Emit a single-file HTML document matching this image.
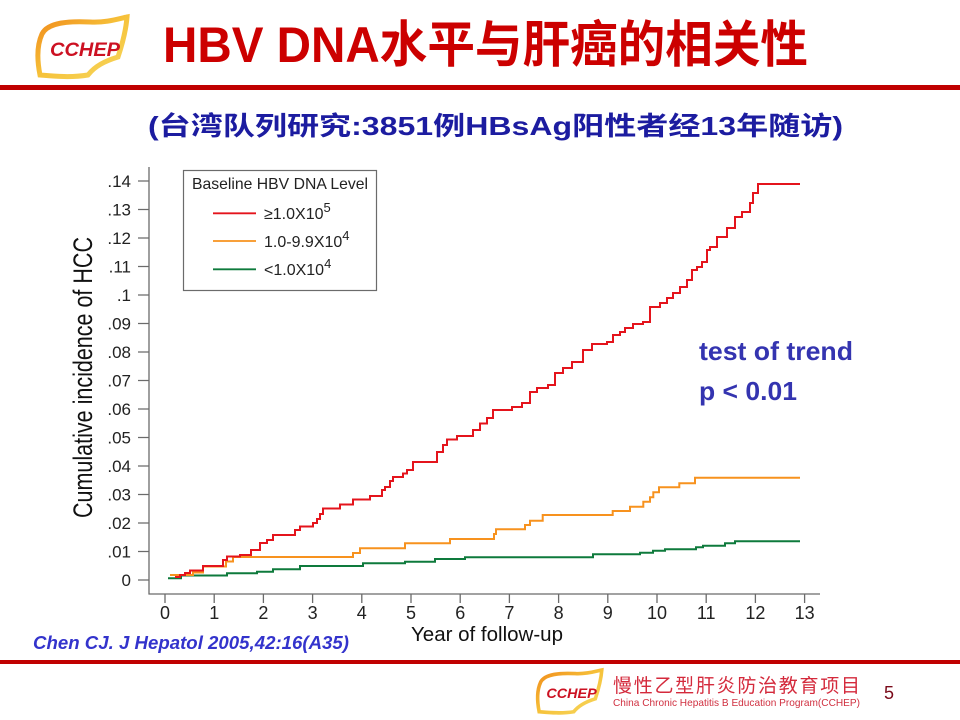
<!DOCTYPE html>
<html><head><meta charset="utf-8"><style>
html,body{margin:0;padding:0;background:#fff;}
svg{display:block;}
text{font-family:"Liberation Sans","Noto Sans CJK SC",sans-serif;}
</style></head><body>
<svg width="960" height="720" viewBox="0 0 960 720" xmlns="http://www.w3.org/2000/svg">
<defs>
<linearGradient id="lg" x1="0" y1="0" x2="1" y2="1">
<stop offset="0" stop-color="#f08a1a"/><stop offset="0.5" stop-color="#f6c23a"/><stop offset="1" stop-color="#f7d860"/>
</linearGradient>
</defs>
<rect width="960" height="720" fill="#fff"/>

<!-- header logo -->
<g id="logo">
<path d="M42,34 C48,22 70,21 90,22 C105,23 118,19 127,17 C126,30 122,45 118,57 C105,61 95,66 88,75 C70,78 52,76 40,75 C37,60 37,45 42,34 Z" fill="#fff" stroke="url(#lg)" stroke-width="5"/>
<text x="50" y="56" font-size="19" font-weight="900" font-style="italic" fill="#cc1122" textLength="70" lengthAdjust="spacingAndGlyphs">CCHEP</text>
</g>

<!-- title -->
<text x="163" y="62" font-size="50" font-weight="bold" fill="#cc0000" textLength="645" lengthAdjust="spacingAndGlyphs">HBV DNA水平与肝癌的相关性</text>
<rect x="0" y="85" width="960" height="5" fill="#c00000"/>

<!-- subtitle -->
<text x="148" y="135" font-size="26" font-weight="bold" fill="#1c1ca0" textLength="695" lengthAdjust="spacingAndGlyphs">(台湾队列研究:3851例HBsAg阳性者经13年随访)</text>

<!-- axes -->
<g stroke="#6b6b6b" stroke-width="1.3" fill="none">
<line x1="149" y1="167" x2="149" y2="594.5"/>
<line x1="148.5" y1="594" x2="820" y2="594"/>
<path d="M138,580H149M138,551.5H149M138,523H149M138,494.5H149M138,466H149M138,437.5H149M138,409H149M138,380.5H149M138,352H149M138,323.5H149M138,295H149M138,266.5H149M138,238H149M138,209.5H149M138,181H149"/>
<path d="M165,594V603M214.2,594V603M263.4,594V603M312.6,594V603M361.8,594V603M411,594V603M460.2,594V603M509.4,594V603M558.6,594V603M607.8,594V603M657,594V603M706.2,594V603M755.4,594V603M804.6,594V603"/>
</g>

<!-- y tick labels -->
<g font-size="17" fill="#222" text-anchor="end">
<text x="131" y="586">0</text>
<text x="131" y="557.5">.01</text>
<text x="131" y="529">.02</text>
<text x="131" y="500.5">.03</text>
<text x="131" y="472">.04</text>
<text x="131" y="443.5">.05</text>
<text x="131" y="415">.06</text>
<text x="131" y="386.5">.07</text>
<text x="131" y="358">.08</text>
<text x="131" y="329.5">.09</text>
<text x="131" y="301">.1</text>
<text x="131" y="272.5">.11</text>
<text x="131" y="244">.12</text>
<text x="131" y="215.5">.13</text>
<text x="131" y="187">.14</text>
</g>

<!-- x tick labels -->
<g font-size="18" fill="#222" text-anchor="middle">
<text x="165" y="619">0</text>
<text x="214.2" y="619">1</text>
<text x="263.4" y="619">2</text>
<text x="312.6" y="619">3</text>
<text x="361.8" y="619">4</text>
<text x="411" y="619">5</text>
<text x="460.2" y="619">6</text>
<text x="509.4" y="619">7</text>
<text x="558.6" y="619">8</text>
<text x="607.8" y="619">9</text>
<text x="657" y="619">10</text>
<text x="706.2" y="619">11</text>
<text x="755.4" y="619">12</text>
<text x="804.6" y="619">13</text>
</g>

<text x="487" y="641" font-size="20" fill="#111" text-anchor="middle" textLength="152" lengthAdjust="spacingAndGlyphs">Year of follow-up</text>
<text transform="translate(92,377.5) rotate(-90) scale(1,1.25)" x="0" y="0" font-size="21.5" fill="#111" text-anchor="middle" textLength="281" lengthAdjust="spacingAndGlyphs">Cumulative incidence of HCC</text>

<!-- series -->
<path fill="none" stroke="#0e7a3c" stroke-width="2" d="M168,578.3 H181 V575.5 H227 V573.3 H257 V571.7 H273 V569.3 H300 V566 H363 V563.3 H405 V561.7 H435 V559 H465 V557.3 H593 V554.3 H640 V552.7 H653 V550.7 H665 V549.3 H696 V547.3 H703 V545.7 H725 V543.3 H735 V541.3 H800"/>
<path fill="none" stroke="#f7921e" stroke-width="2" d="M170,575 H193 V572.5 H203 V566.5 H226 V561.5 H233 V557 H353 V553 H360 V548.3 H405 V543.3 H450 V539 H494 V534 H496 V529.3 H525 V525 H530 V520.7 H542.7 V515 H612.7 V511 H630 V506.7 H643.3 V501.7 H650 V497.3 H653.3 V492.3 H659 V487.3 H679.3 V483.3 H695 V477.7 H800"/>
<path fill="none" stroke="#e4141c" stroke-width="2" d="M175,577 H180 V575 H185 V573 H190 V570.5 H203 V566 H223 V560 H227 V556.5 H240 V555 H251 V550 H260 V543 H267 V540 H273 V535 H295 V530 H300 V526.5 H313 V523 H317 V519 H320 V514 H323 V508.5 H340 V504.5 H353 V499.5 H370 V496 H382 V490 H385 V487 H390 V481 H393 V477 H403 V473.5 H407 V470 H413 V462 H437 V452 H443 V445 H447 V439.5 H457 V436 H473 V430 H480 V423.5 H487 V418 H493 V410 H512 V407 H522 V403 H530 V392 H537 V388 H548 V385 H555 V373 H563 V368 H572 V362 H583 V350 H592 V344 H607 V342 H613 V335 H620 V332 H625 V328 H633 V324 H643 V322 H650 V307 H660 V303 H667 V298 H673 V293 H680 V287 H687 V280 H692 V270 H697 V267 H702 V262 H707 V250 H710 V247 H717 V237 H727 V228 H735 V217 H742 V212 H750 V203 H753 V193 H758 V184 H800"/>

<!-- legend -->
<rect x="183.5" y="170.5" width="193" height="120" fill="#fff" stroke="#6b6b6b" stroke-width="1.2"/>
<text x="192" y="189" font-size="16" fill="#222" textLength="176" lengthAdjust="spacingAndGlyphs">Baseline HBV DNA Level</text>
<line x1="213" y1="213.3" x2="256" y2="213.3" stroke="#e4141c" stroke-width="1.8"/>
<line x1="213" y1="241" x2="256" y2="241" stroke="#f7921e" stroke-width="1.8"/>
<line x1="213" y1="269.3" x2="256" y2="269.3" stroke="#0e7a3c" stroke-width="1.8"/>
<g font-size="16" fill="#222">
<text x="264" y="219">≥1.0X10<tspan font-size="13" dy="-7">5</tspan></text>
<text x="264" y="247">1.0-9.9X10<tspan font-size="13" dy="-7">4</tspan></text>
<text x="264" y="275">&lt;1.0X10<tspan font-size="13" dy="-7">4</tspan></text>
</g>

<!-- annotation -->
<text x="699" y="360" font-size="26" font-weight="bold" fill="#3434b0" textLength="154" lengthAdjust="spacingAndGlyphs">test of trend</text>
<text x="699" y="400" font-size="26" font-weight="bold" fill="#3434b0" textLength="98" lengthAdjust="spacingAndGlyphs">p &lt; 0.01</text>

<!-- citation -->
<text x="33" y="649" font-size="18.6" font-weight="bold" font-style="italic" fill="#3333cc" textLength="316" lengthAdjust="spacingAndGlyphs">Chen CJ. J Hepatol 2005,42:16(A35)</text>

<!-- bottom bar -->
<rect x="0" y="660" width="960" height="4" fill="#c00000"/>

<!-- footer logo -->
<g transform="translate(537,670) scale(0.72) translate(-37,-17)">
<path d="M42,34 C48,22 70,21 90,22 C105,23 118,19 127,17 C126,30 122,45 118,57 C105,61 95,66 88,75 C70,78 52,76 40,75 C37,60 37,45 42,34 Z" fill="#fff" stroke="url(#lg)" stroke-width="5"/>
<text x="50" y="56" font-size="19" font-weight="900" font-style="italic" fill="#cc1122" textLength="70" lengthAdjust="spacingAndGlyphs">CCHEP</text>
</g>
<text x="613" y="692" font-size="19" fill="#d42a3c" textLength="247" lengthAdjust="spacing">慢性乙型肝炎防治教育项目</text>
<text x="613" y="706" font-size="10.5" fill="#d03040" textLength="247" lengthAdjust="spacingAndGlyphs">China Chronic Hepatitis B Education Program(CCHEP)</text>
<text x="889" y="699" font-size="18" fill="#7a0a1a" text-anchor="middle">5</text>
</svg>
</body></html>
